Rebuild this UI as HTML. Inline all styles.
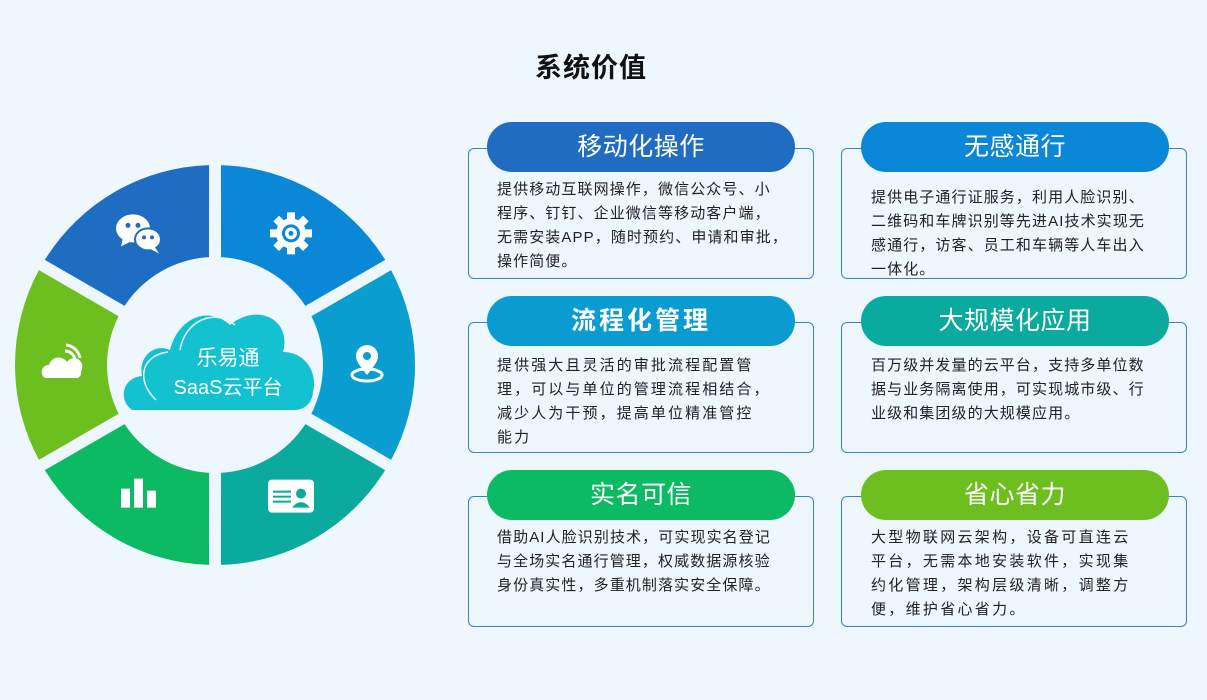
<!DOCTYPE html>
<html><head><meta charset="utf-8"><style>
body{margin:0;width:1207px;height:700px;background:#eef6fe;overflow:hidden;font-family:"Liberation Sans","Noto Sans CJK SC",sans-serif;position:relative}
.t{position:absolute;left:535px;top:46px;font-size:27px;font-weight:bold;color:#111;letter-spacing:1px}
.card{position:absolute;width:346px;height:128px;border:1.5px solid #3a80d2;border-radius:6px;box-sizing:border-box}
.pill{position:absolute;width:308px;height:50px;border-radius:25px;color:#fff;font-size:25px;text-align:center;line-height:50px;letter-spacing:0.5px}
.tx{position:absolute;font-size:15px;line-height:24px;color:#222;letter-spacing:1.1px;white-space:nowrap}
</style></head><body>
<div class="t">系统价值</div>
<svg id="d" width="430" height="600" style="position:absolute;left:0;top:0"></svg>

<div class="card" style="left:468px;top:148px;height:131px"></div>
<div class="pill" style="left:487px;top:122px;background:#1f6cc2">移动化操作</div>
<div class="tx" style="left:497px;top:178px">提供移动互联网操作，微信公众号、小<br>程序、钉钉、企业微信等移动客户端，<br>无需安装APP，随时预约、申请和审批，<br>操作简便。</div>

<div class="card" style="left:841px;top:148px;height:131px"></div>
<div class="pill" style="left:861px;top:122px;background:#0a87d6">无感通行</div>
<div class="tx" style="left:871px;top:186px">提供电子通行证服务，利用人脸识别、<br>二维码和车牌识别等先进AI技术实现无<br>感通行，访客、员工和车辆等人车出入<br>一体化。</div>

<div class="card" style="left:468px;top:322px;height:131px"></div>
<div class="pill" style="left:487px;top:296px;background:#0a9cd0;font-weight:bold;letter-spacing:3px">流程化管理</div>
<div class="tx" style="left:497px;top:354px;letter-spacing:2.1px">提供强大且灵活的审批流程配置管<br>理，可以与单位的管理流程相结合，<br>减少人为干预，提高单位精准管控<br>能力</div>

<div class="card" style="left:841px;top:322px;height:131px"></div>
<div class="pill" style="left:861px;top:296px;background:#0aaa9e">大规模化应用</div>
<div class="tx" style="left:871px;top:354px">百万级并发量的云平台，支持多单位数<br>据与业务隔离使用，可实现城市级、行<br>业级和集团级的大规模应用。</div>

<div class="card" style="left:468px;top:496px;height:131px"></div>
<div class="pill" style="left:487px;top:470px;background:#0bba63">实名可信</div>
<div class="tx" style="left:497px;top:526px">借助AI人脸识别技术，可实现实名登记<br>与全场实名通行管理，权威数据源核验<br>身份真实性，多重机制落实安全保障。</div>

<div class="card" style="left:841px;top:496px;height:131px"></div>
<div class="pill" style="left:861px;top:470px;background:#6dbf1f">省心省力</div>
<div class="tx" style="left:871px;top:526px;letter-spacing:2.3px">大型物联网云架构，设备可直连云<br>平台，无需本地安装软件，实现集<br>约化管理，架构层级清晰，调整方<br>便，维护省心省力。</div>

<script>
var s=document.getElementById('d'),cx=215,cy=365,R=200,r=108;
var cols=['#0a87d6','#0a9ed0','#0aaa9e','#0bba63','#6dbf1f','#1f6dc2'];
function p(a,rad){a=a*Math.PI/180;return [cx+rad*Math.cos(a),cy+rad*Math.sin(a)]}
var h='';
for(var i=0;i<6;i++){var a0=-90+60*i,a1=a0+60,go=1.7,gi=3.2;
var A=p(a0+go,R),B=p(a1-go,R),C=p(a1-gi,r),D=p(a0+gi,r);
h+='<path fill="'+cols[i]+'" d="M'+A+' A'+R+' '+R+' 0 0 1 '+B+' L'+C+' A'+r+' '+r+' 0 0 0 '+D+'Z"/>';}
var g=p(-60,152);h+='<g transform="translate('+g+')" fill="#fff"><circle r="15"/>';
for(var k=0;k<8;k++)h+='<rect x="-4" y="-21" width="8" height="9" transform="rotate('+(k*45)+')"/>';
h+='<circle r="9" fill="#0a87d6"/><circle r="6"/><circle r="2.5" fill="#0a87d6"/></g>';
g=p(0,152);h+='<g transform="translate('+g+')" fill="#fff"><ellipse cx="0" cy="10" rx="15" ry="6" fill="none" stroke="#fff" stroke-width="3"/><path d="M0 10 C-8 0 -11 -4 -11 -9 A11 11 0 0 1 11 -9 C11 -4 8 0 0 10Z"/><circle cy="-9" r="4" fill="#0a9ed0"/></g>';
g=p(60,152);h+='<g transform="translate('+g+')"><rect x="-23" y="-17" width="46" height="33" rx="4" fill="#fff"/><g fill="#0aaa9e"><rect x="-18" y="-6" width="18" height="2"/><rect x="-18" y="-1" width="18" height="2"/><rect x="-18" y="4" width="18" height="2"/><circle cx="10" cy="-3" r="5"/><path d="M1 11 Q10 0 19 11Z"/></g></g>';
g=p(120,152);h+='<g transform="translate('+g+')" fill="#fff"><rect x="-18" y="-8" width="9" height="19"/><rect x="-5" y="-18" width="9" height="29"/><rect x="8" y="-6" width="9" height="17"/></g>';
g=p(180,152);h+='<g transform="translate('+g+')" fill="#fff"><path d="M-18 13 A7 7 0 0 1 -14 0 A10 10 0 0 1 4 -3 A8 8 0 0 1 18 6 A6 6 0 0 1 15 13Z"/><path d="M2 -14 A10 10 0 0 1 12 -5" stroke="#fff" stroke-width="3" fill="none"/><path d="M3 -20 A16 16 0 0 1 17 -7" stroke="#fff" stroke-width="3" fill="none"/></g>';
g=p(240,152);h+='<g transform="translate('+g+')"><ellipse cx="-6" cy="-5" rx="17" ry="14" fill="#fff"/><path d="M-16 4 L-18 13 L-8 8Z" fill="#fff"/><circle cx="-11" cy="-8" r="2.5" fill="#1f6dc2"/><circle cx="-1" cy="-8" r="2.5" fill="#1f6dc2"/><ellipse cx="9" cy="6" rx="14" ry="12" fill="#1f6dc2"/><ellipse cx="9" cy="6" rx="12" ry="10" fill="#fff"/><path d="M16 14 L20 20 L12 16Z" fill="#fff"/><circle cx="5" cy="4" r="2" fill="#1f6dc2"/><circle cx="13" cy="4" r="2" fill="#1f6dc2"/></g>';
h+='<path fill="#14c1d1" d="M132 410 C118 400 122 378 142 376 C138 356 155 343 170 350 C178 318 208 305 230 325 C258 302 292 320 283 352 C305 352 318 372 313 392 C312 404 304 410 294 410Z"/>';
h+='<path d="M156 400 C135 380 142 355 168 352" stroke="#eaf9fb" stroke-width="1.5" fill="none"/><path d="M180 350 C185 320 215 308 235 325" stroke="#eaf9fb" stroke-width="1.5" fill="none"/>';
h+='<text x="228" y="365" text-anchor="middle" fill="#fff" font-size="21" font-family="Liberation Sans,Noto Sans CJK SC,sans-serif">乐易通</text>';
h+='<text x="228" y="394" text-anchor="middle" fill="#fff" font-size="20" font-family="Liberation Sans,Noto Sans CJK SC,sans-serif">SaaS云平台</text>';
s.innerHTML=h;
</script>
</body></html>
